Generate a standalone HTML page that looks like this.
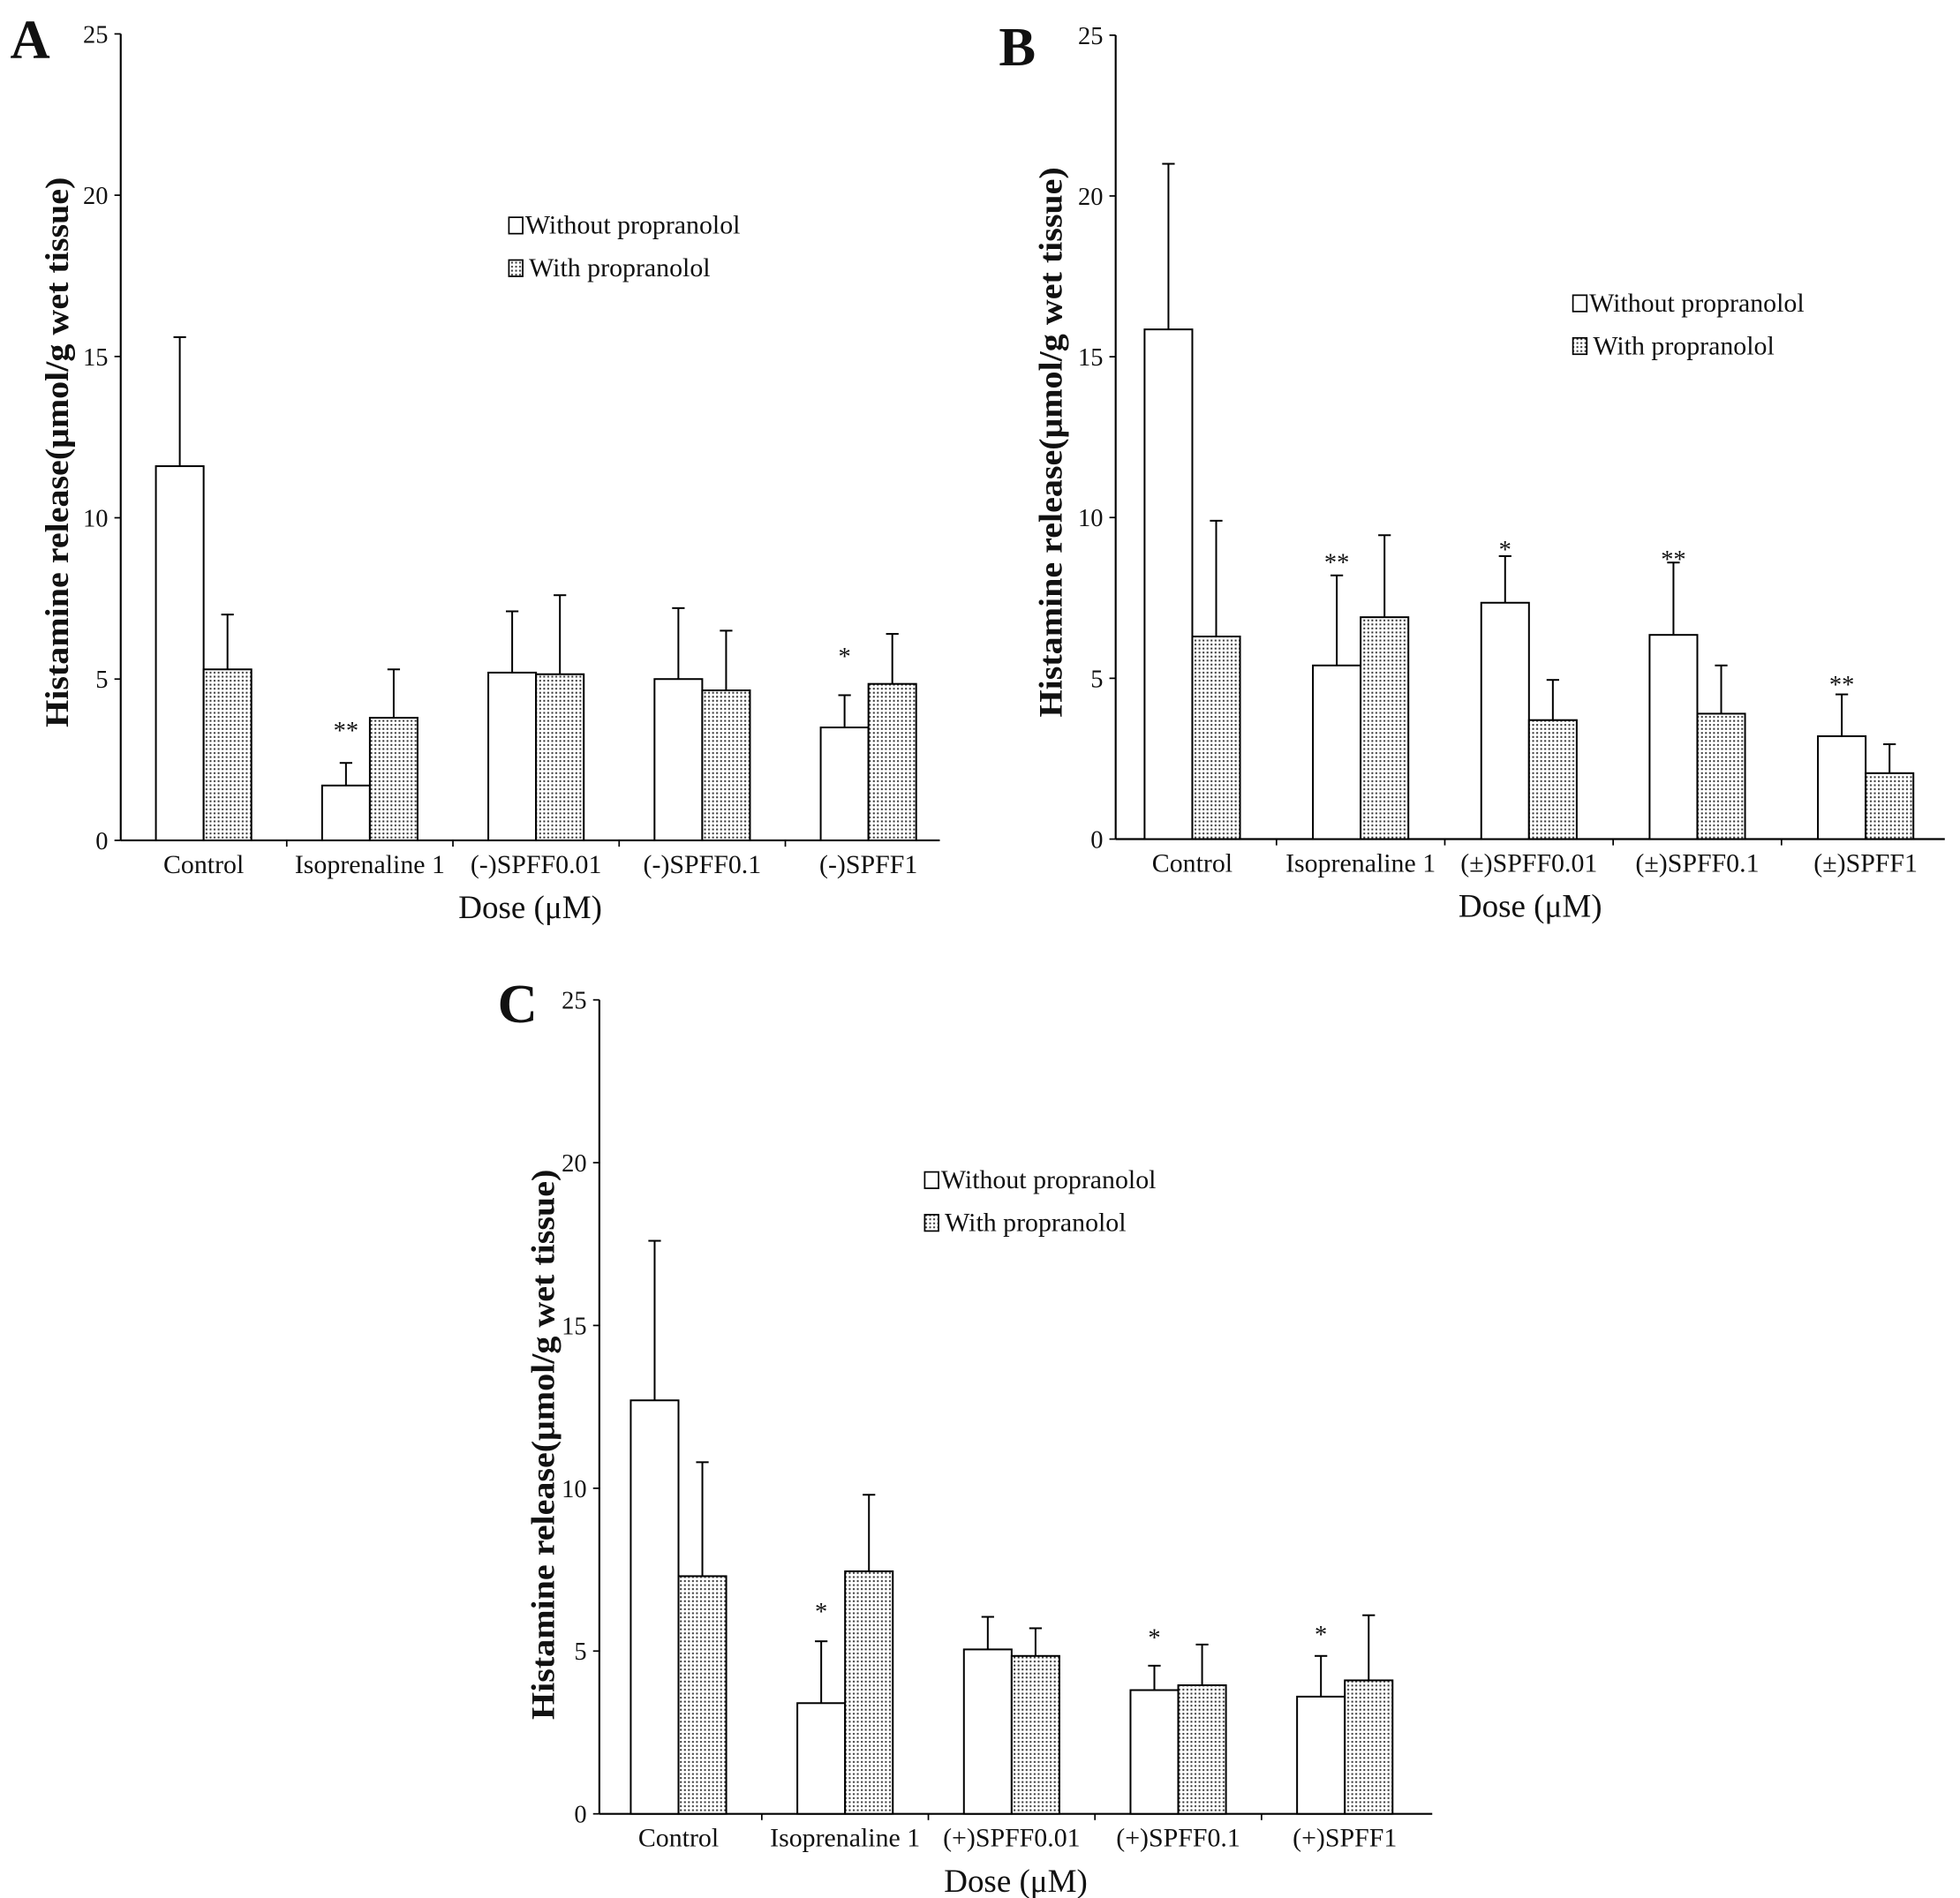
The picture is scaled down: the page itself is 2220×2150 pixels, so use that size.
<!DOCTYPE html>
<html><head><meta charset="utf-8"><style>
html,body{margin:0;padding:0;background:#fff;}
svg{display:block;}
text{font-family:"Liberation Serif",serif;fill:#111;}
</style></head><body>
<svg id="fig" width="2220" height="2150" viewBox="0 0 1560 1511" xmlns="http://www.w3.org/2000/svg">
<defs>
<pattern id="dots" width="3.2" height="3.2" patternUnits="userSpaceOnUse">
<rect width="3.2" height="3.2" fill="#fff"/>
<rect x="0.4" y="0.4" width="1.4" height="1.4" fill="#333"/>
</pattern>
</defs>
</svg>
<script>
const NS="http://www.w3.org/2000/svg";
const svg=document.getElementById('fig');

// Panel A data
const catsA=["Control","Isoprenaline 1","(-)SPFF0.01","(-)SPFF0.1","(-)SPFF1"];
const withoutA=[11.6,1.7,5.2,5.0,3.5];
const withoutErrA=[15.6,2.4,7.1,7.2,4.5];
const withA=[5.3,3.8,5.15,4.65,4.85];
const withErrA=[7.0,5.3,7.6,6.5,6.4];
const starsA=["","**","","","*"];
const starPosA=[0,3.5,0,0,5.8];

// Panel B data
const catsB=["Control","Isoprenaline 1","(±)SPFF0.01","(±)SPFF0.1","(±)SPFF1"];
const withoutB=[15.85,5.4,7.35,6.35,3.2];
const withoutErrB=[21.0,8.2,8.8,8.6,4.5];
const withB=[6.3,6.9,3.7,3.9,2.05];
const withErrB=[9.9,9.45,4.95,5.4,2.95];
const starsB=["","**","*","**","**"];
const starPosB=[0,8.7,9.1,8.8,4.9];

// Panel C data
const catsC=["Control","Isoprenaline 1","(+)SPFF0.01","(+)SPFF0.1","(+)SPFF1"];
const withoutC=[12.7,3.4,5.05,3.8,3.6];
const withoutErrC=[17.6,5.3,6.05,4.55,4.85];
const withC=[7.3,7.45,4.85,3.95,4.1];
const withErrC=[10.8,9.8,5.7,5.2,6.1];
const starsC=["","*","","*","*"];
const starPosC=[0,6.3,0,5.5,5.6];

const yTicks=[0,5,10,15,20,25];

function el(tag,attrs,parent){const e=document.createElementNS(NS,tag);for(const k in attrs)e.setAttribute(k,attrs[k]);(parent||svg).appendChild(e);return e;}
function txt(str,attrs,parent){const t=el('text',attrs,parent);t.textContent=str;return t;}

function panel(id,letter,L,cats,wo,woE,wi,wiE,stars,starPos){
  const g=el('g',{});
  
  
  const y=v=>L.y0-(v/25)*(L.y0-L.yTop);
  const gx=i=>L.x0+L.first+i*L.step;
  const lt=txt(letter,{x:L.lx,y:L.ly,'font-size':44,'font-weight':'bold'},g);
  
  
  const ya=el('line',{x1:L.x0,y1:L.yTop,x2:L.x0,y2:L.y0,stroke:'#000','stroke-width':1.5},g);
  
  
  const xa=el('line',{x1:L.x0,y1:L.y0,x2:L.xEnd,y2:L.y0,stroke:'#000','stroke-width':1.5},g);
  
  
  yTicks.forEach(t=>{
    el('line',{x1:L.x0-5,y1:y(t),x2:L.x0,y2:y(t),stroke:'#000','stroke-width':1.2},g);
    const tl=txt(String(t),{x:L.x0-10,y:y(t)+7,'font-size':20,'text-anchor':'end'},g);
    
    
  });
  for(let i=1;i<cats.length;i++){
    const xx=gx(i)-L.step/2;
    el('line',{x1:xx,y1:L.y0,x2:xx,y2:L.y0+5,stroke:'#000','stroke-width':1.2},g);
  }
  const bw=L.bw;
  cats.forEach((c,i)=>{
    const cx=gx(i);
    const b1=el('rect',{x:cx-bw,y:y(wo[i]),width:bw,height:L.y0-y(wo[i]),fill:'#fff',stroke:'#000','stroke-width':1.4},g);
    
    
    el('line',{x1:cx-bw/2,y1:y(wo[i]),x2:cx-bw/2,y2:y(woE[i]),stroke:'#000','stroke-width':1.4},g);
    el('line',{x1:cx-bw/2-5,y1:y(woE[i]),x2:cx-bw/2+5,y2:y(woE[i]),stroke:'#000','stroke-width':1.4},g);
    const b2=el('rect',{x:cx,y:y(wi[i]),width:bw,height:L.y0-y(wi[i]),fill:'url(#dots)',stroke:'#000','stroke-width':1.4},g);
    
    
    el('line',{x1:cx+bw/2,y1:y(wi[i]),x2:cx+bw/2,y2:y(wiE[i]),stroke:'#000','stroke-width':1.4},g);
    el('line',{x1:cx+bw/2-5,y1:y(wiE[i]),x2:cx+bw/2+5,y2:y(wiE[i]),stroke:'#000','stroke-width':1.4},g);
    if(stars[i]){
      const s=txt(stars[i],{x:cx-bw/2,y:y(starPos[i])+9,'font-size':20,'text-anchor':'middle'},g);
      
      
    }
    const cl=txt(c,{x:cx,y:L.y0+26,'font-size':21,'text-anchor':'middle'},g);
    
    
  });
  const xt=txt('Dose (μM)',{x:L.x0+(L.xEnd-L.x0)/2,y:L.y0+62,'font-size':26,'text-anchor':'middle'},g);
  
  
  const ytl=txt('Histamine release(μmol/g wet tissue)',{x:0,y:0,'font-size':26,'font-weight':'bold','text-anchor':'middle',textLength:438,lengthAdjust:'spacingAndGlyphs',transform:`translate(${L.ytx},${L.yty}) rotate(-90)`},g);
  
  
  const lg=el('g',{},g);
  
  
  el('rect',{x:L.legx,y:L.legy-13,width:11,height:13,fill:'#fff',stroke:'#000','stroke-width':1.2},lg);
  const t1=txt('Without propranolol',{x:L.legx+13,y:L.legy,'font-size':21},lg);
  
  
  el('rect',{x:L.legx,y:L.legy+21,width:11,height:13,fill:'url(#dots)',stroke:'#000','stroke-width':1.2},lg);
  const t2=txt('With propranolol',{x:L.legx+16,y:L.legy+34,'font-size':21},lg);
  
  
}

panel('a','A',{x0:96,yTop:27,y0:669,xEnd:748,first:66,step:132.3,bw:38,lx:8,ly:46,ytx:54,yty:360,legx:405,legy:186},catsA,withoutA,withoutErrA,withA,withErrA,starsA,starPosA);
panel('b','B',{x0:888,yTop:28,y0:668,xEnd:1548,first:61,step:134,bw:38,lx:795,ly:52,ytx:845,yty:352,legx:1252,legy:248},catsB,withoutB,withoutErrB,withB,withErrB,starsB,starPosB);
panel('c','C',{x0:477,yTop:796,y0:1444,xEnd:1140,first:63,step:132.6,bw:38,lx:396,ly:814,ytx:441,yty:1150,legx:736,legy:946},catsC,withoutC,withoutErrC,withC,withErrC,starsC,starPosC);
</script>
</body></html>
